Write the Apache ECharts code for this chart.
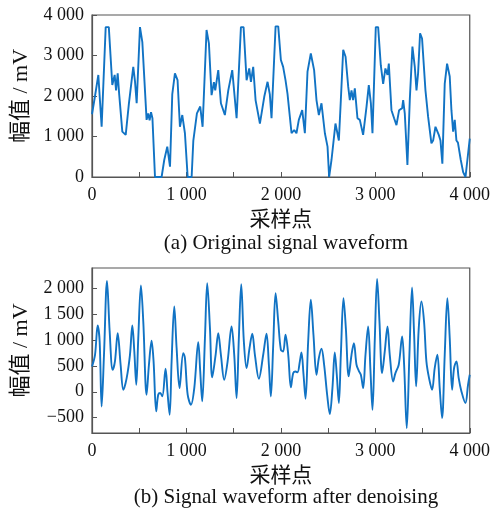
<!DOCTYPE html>
<html>
<head>
<meta charset="utf-8">
<script src="https://cdn.jsdelivr.net/npm/echarts@6/dist/echarts.min.js"></script>
<style>
  html, body { margin: 0; padding: 0; background: #fff; }
  #chart { width: 493px; height: 510px; }
</style>
</head>
<body>
<div id="chart"></div>
<script>
// =====================
// 数据
// =====================

const xTicks = [0, 1000, 2000, 3000, 4000];
const topTicks = [0, 1000, 2000, 3000, 4000];
const bottomTicks = [-500, 0, 500, 1000, 1500, 2000];

// (a) 原始信号
const origSamples = [0, 32, 67, 102, 145, 178, 215, 240, 255, 272, 288, 321, 357, 391, 437, 455, 473, 508, 533, 578, 595, 610, 625, 640, 667, 737, 765, 797, 826, 850, 878, 906, 931, 956, 984, 1013, 1055, 1073, 1111, 1146, 1171, 1213, 1238, 1266, 1280, 1291, 1305, 1337, 1365, 1407, 1443, 1485, 1531, 1577, 1605, 1637, 1665, 1683, 1707, 1732, 1778, 1824, 1859, 1883, 1901, 1944, 1972, 2000, 2024, 2049, 2070, 2113, 2141, 2165, 2190, 2226, 2254, 2282, 2317, 2352, 2377, 2402, 2430, 2466, 2494, 2511, 2536, 2578, 2614, 2635, 2660, 2685, 2713, 2730, 2748, 2765, 2783, 2811, 2836, 2871, 2907, 2931, 2953, 2970, 3005, 3030, 3058, 3083, 3107, 3129, 3143, 3171, 3199, 3224, 3252, 3284, 3295, 3312, 3340, 3365, 3393, 3418, 3436, 3453, 3474, 3495, 3510, 3531, 3559, 3594, 3612, 3637, 3672, 3690, 3710, 3735, 3760, 3788, 3806, 3824, 3841, 3859, 3875, 3905, 3930, 3955, 3976, 4000];
const origValues = [1550, 2000, 2520, 1240, 3700, 3700, 2270, 2520, 2140, 2560, 2040, 1120, 1040, 1820, 2720, 2370, 1820, 3700, 3330, 1410, 1570, 1400, 1600, 1450, 0, 0, 420, 750, 255, 2040, 2560, 2390, 1240, 1530, 1080, 0, 0, 900, 1570, 1740, 1240, 3630, 3300, 2020, 2000, 2340, 2140, 2640, 1820, 1530, 2140, 2640, 1450, 3700, 3700, 2390, 2680, 2350, 2720, 1900, 1320, 1980, 2350, 2040, 1450, 3720, 3720, 2890, 2720, 2390, 2060, 1080, 1160, 1080, 1410, 1650, 1080, 2600, 3050, 2640, 1900, 1530, 1820, 1080, 750, 0, 420, 1320, 900, 1900, 3140, 2970, 2230, 1900, 2140, 1900, 2190, 1450, 1410, 1040, 1740, 2270, 1820, 1080, 3700, 3700, 2760, 2300, 2680, 2520, 2800, 1650, 1450, 1280, 1650, 1700, 1900, 1570, 300, 1900, 3220, 2720, 2140, 2560, 3550, 3420, 3380, 2140, 1490, 830, 900, 1240, 1040, 900, 330, 2300, 2800, 2480, 1650, 1120, 1410, 900, 850, 420, 120, 0, 0, 950];

// (b) 去噪后信号
const denSamples = [0, 32, 60, 81, 102, 127, 159, 187, 219, 243, 272, 303, 332, 367, 402, 427, 448, 469, 490, 518, 543, 578, 603, 631, 652, 680, 701, 722, 744, 779, 800, 822, 843, 871, 896, 927, 966, 984, 1013, 1048, 1083, 1125, 1146, 1167, 1196, 1220, 1249, 1273, 1309, 1337, 1365, 1400, 1436, 1478, 1506, 1531, 1555, 1580, 1608, 1637, 1668, 1697, 1725, 1767, 1813, 1848, 1873, 1894, 1919, 1944, 1972, 2000, 2024, 2049, 2078, 2106, 2131, 2155, 2176, 2201, 2218, 2240, 2261, 2289, 2317, 2345, 2377, 2402, 2430, 2458, 2490, 2518, 2546, 2571, 2592, 2614, 2635, 2663, 2688, 2718, 2748, 2773, 2801, 2825, 2847, 2871, 2896, 2924, 2949, 2970, 2995, 3019, 3044, 3072, 3100, 3129, 3153, 3189, 3213, 3248, 3284, 3305, 3333, 3361, 3389, 3411, 3432, 3460, 3488, 3516, 3541, 3569, 3601, 3629, 3657, 3682, 3707, 3735, 3763, 3788, 3813, 3834, 3859, 3883, 3912, 3954, 3982, 4000];
const denValues = [490, 717, 1285, 975, -285, 717, 2150, 1170, 426, 590, 1137, 523, 40, 265, 717, 1285, 782, 136, 1040, 2060, 1363, -58, 523, 988, 590, -381, -58, -25, -90, 445, -20, -446, 590, 1653, 847, 71, 749, 652, -58, -252, 71, 963, 394, -187, 1040, 2105, 1233, 278, 717, 1137, 717, 233, 590, 1266, 717, -122, 1040, 2086, 975, 459, 846, 1124, 717, 252, 717, 1124, 523, -90, 910, 1912, 1363, 814, 782, 1105, 717, 84, 362, 394, 375, 590, 762, 329, -136, 975, 1783, 1105, 329, 652, 833, 523, -58, -433, 71, 762, 329, -219, 717, 1815, 1233, 300, 717, 943, 523, 407, 329, 71, 717, 1266, 394, -350, 1040, 2190, 1363, 362, 782, 1266, 717, 200, 362, 523, 1072, 523, -705, 717, 2021, 1105, 104, 1233, 1750, 1363, 590, 265, 39, 459, 717, 71, -511, 717, 1815, 1040, 39, 459, 590, 265, 6, -219, 136, 329];

// =====================
// 工具
// =====================

const FONT = "'Liberation Serif', 'Noto Sans CJK SC', serif";
const LINE_COLOR = "#1173c4";
const AXIS_COLOR = "#555";

function fmt(v) {
  const s = String(Math.abs(v));
  const t = s.length > 3 ? s.slice(0, s.length - 3) + " " + s.slice(-3) : s;
  return (v < 0 ? "\u2212" : "") + t;
}

function pairs(xs, ys) {
  return xs.map((x, i) => [x, ys[i]]);
}

function makeXAxis(gridIndex) {
  return {
    gridIndex: gridIndex,
    type: "value",
    min: 0,
    max: 4000,
    interval: 500,
    name: "采样点",
    nameLocation: "middle",
    nameGap: 33,
    nameTextStyle: { fontFamily: FONT, fontSize: 21, color: "#111" },
    axisLine: { onZero: false, lineStyle: { color: AXIS_COLOR, width: 1.2 } },
    axisTick: { inside: true, length: 5, lineStyle: { color: AXIS_COLOR } },
    splitLine: { show: false },
    axisLabel: {
      fontFamily: FONT,
      fontSize: 18,
      color: "#111",
      margin: 9,
      formatter: (v) => (xTicks.indexOf(v) >= 0 ? fmt(v) : ""),
    },
  };
}

function makeYAxis(gridIndex, min, max, ticks) {
  return {
    gridIndex: gridIndex,
    type: "value",
    min: min,
    max: max,
    name: "幅值 / mV",
    nameLocation: "middle",
    nameRotate: 90,
    nameGap: 60,
    nameTextStyle: { fontFamily: FONT, fontSize: 22, color: "#111" },
    axisLine: { onZero: false, lineStyle: { color: AXIS_COLOR, width: 1.2 } },
    axisTick: { inside: true, length: 5, customValues: ticks, lineStyle: { color: AXIS_COLOR } },
    splitLine: { show: false },
    axisLabel: {
      fontFamily: FONT,
      fontSize: 18,
      color: "#111",
      margin: 8,
      customValues: ticks,
      formatter: (v) => fmt(v),
    },
  };
}

// =====================
// 图表
// =====================

const chart = echarts.init(document.getElementById("chart"));

chart.setOption({
  animation: false,
  backgroundColor: "#fff",

  title: [
    {
      text: "(a) Original signal waveform",
      left: 281,
      top: 228,
      textAlign: "center",
      textStyle: { fontFamily: FONT, fontSize: 21, fontWeight: "normal", color: "#111" },
    },
    {
      text: "(b) Signal waveform after denoising",
      left: 281,
      top: 482,
      textAlign: "center",
      textStyle: { fontFamily: FONT, fontSize: 21, fontWeight: "normal", color: "#111" },
    },
  ],

  grid: [
    { left: 92, top: 15, width: 378, height: 162, show: true, borderColor: AXIS_COLOR, borderWidth: 1.2 },
    { left: 92, top: 268, width: 378, height: 165, show: true, borderColor: AXIS_COLOR, borderWidth: 1.2 },
  ],

  xAxis: [makeXAxis(0), makeXAxis(1)],

  yAxis: [makeYAxis(0, 0, 4000, topTicks), makeYAxis(1, -800, 2400, bottomTicks)],

  series: [
    {
      type: "line",
      xAxisIndex: 0,
      yAxisIndex: 0,
      showSymbol: false,
      lineStyle: { color: LINE_COLOR, width: 1.9 },
      data: pairs(origSamples, origValues),
    },
    {
      type: "line",
      xAxisIndex: 1,
      yAxisIndex: 1,
      showSymbol: false,
      smooth: 0.35,
      lineStyle: { color: LINE_COLOR, width: 1.9 },
      data: pairs(denSamples, denValues),
    },
  ],
});
</script>
</body>
</html>
